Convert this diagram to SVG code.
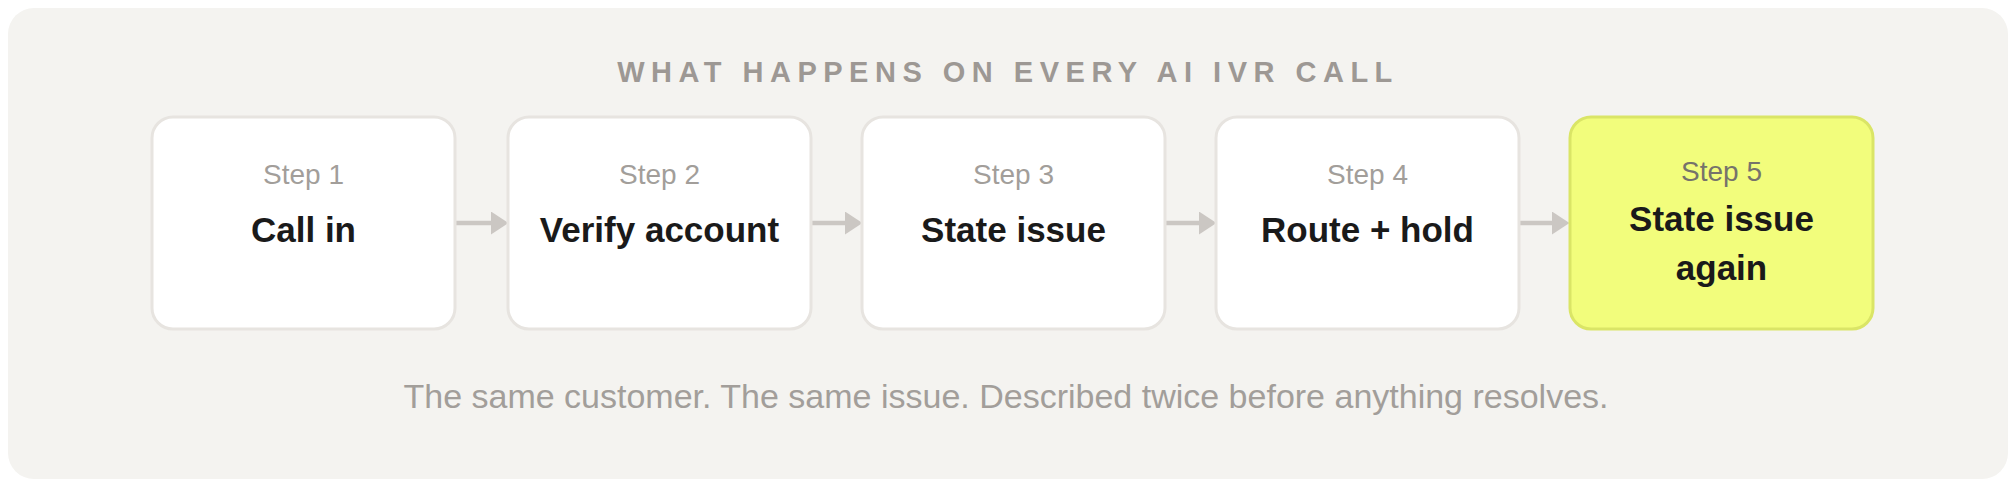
<svg xmlns="http://www.w3.org/2000/svg" width="2016" height="484" viewBox="0 0 2016 484">
  <style>
    .bg { fill: #f4f3f0; }
    .box { fill: #ffffff; stroke: #e7e4e0; stroke-width: 3; }
    .hot { fill: #f2fd7c; stroke: #dae566; stroke-width: 3; }
    .title { font-family: "Liberation Sans", Arial, Helvetica, sans-serif; font-weight: bold; font-size: 29px; letter-spacing: 6.5px; fill: #9d9894; }
    .step { font-family: "Liberation Sans", Arial, Helvetica, sans-serif; font-size: 28px; fill: #a29e9a; }
    .step5 { font-family: "Liberation Sans", Arial, Helvetica, sans-serif; font-size: 28px; fill: #76736b; }
    .label { font-family: "Liberation Sans", Arial, Helvetica, sans-serif; font-weight: bold; font-size: 35px; fill: #1a1a1a; }
    .note { font-family: "Liberation Sans", Arial, Helvetica, sans-serif; font-size: 34px; fill: #a29e9a; }
    .conn { stroke: #cbc7c3; stroke-width: 4.5; fill: none; }
  </style>
  <defs>
    <marker id="arrow" markerUnits="userSpaceOnUse" markerWidth="18" markerHeight="24" refX="0" refY="11.5" orient="auto">
      <path d="M0,0 L17.5,11.5 L0,23 Z" fill="#cbc7c3"/>
    </marker>
  </defs>

  <rect class="bg" x="8" y="8" width="2000" height="471" rx="26" ry="26"/>

  <text class="title" x="1008" y="82" text-anchor="middle">WHAT HAPPENS ON EVERY AI IVR CALL</text>

  <g id="connectors">
    <line class="conn" x1="456" y1="223" x2="491" y2="223" marker-end="url(#arrow)"/>
    <line class="conn" x1="810" y1="223" x2="845" y2="223" marker-end="url(#arrow)"/>
    <line class="conn" x1="1164" y1="223" x2="1199" y2="223" marker-end="url(#arrow)"/>
    <line class="conn" x1="1518" y1="223" x2="1552" y2="223" marker-end="url(#arrow)"/>
  </g>

  <g id="step1">
    <rect class="box" x="152" y="117" width="303" height="212" rx="21" ry="21"/>
    <text class="step" x="303.5" y="183.5" text-anchor="middle">Step 1</text>
    <text class="label" x="303.5" y="241.5" text-anchor="middle">Call in</text>
  </g>

  <g id="step2">
    <rect class="box" x="508" y="117" width="303" height="212" rx="21" ry="21"/>
    <text class="step" x="659.5" y="183.5" text-anchor="middle">Step 2</text>
    <text class="label" x="659.5" y="241.5" text-anchor="middle">Verify account</text>
  </g>

  <g id="step3">
    <rect class="box" x="862" y="117" width="303" height="212" rx="21" ry="21"/>
    <text class="step" x="1013.5" y="183.5" text-anchor="middle">Step 3</text>
    <text class="label" x="1013.5" y="241.5" text-anchor="middle">State issue</text>
  </g>

  <g id="step4">
    <rect class="box" x="1216" y="117" width="303" height="212" rx="21" ry="21"/>
    <text class="step" x="1367.5" y="183.5" text-anchor="middle">Step 4</text>
    <text class="label" x="1367.5" y="241.5" text-anchor="middle">Route + hold</text>
  </g>

  <g id="step5">
    <rect class="hot" x="1570" y="117" width="303" height="212" rx="21" ry="21"/>
    <text class="step5" x="1721.5" y="181" text-anchor="middle">Step 5</text>
    <text class="label" x="1721.5" y="231" text-anchor="middle">State issue</text>
    <text class="label" x="1721.5" y="280" text-anchor="middle">again</text>
  </g>

  <text class="note" x="1006" y="408" text-anchor="middle">The same customer. The same issue. Described twice before anything resolves.</text>
</svg>
